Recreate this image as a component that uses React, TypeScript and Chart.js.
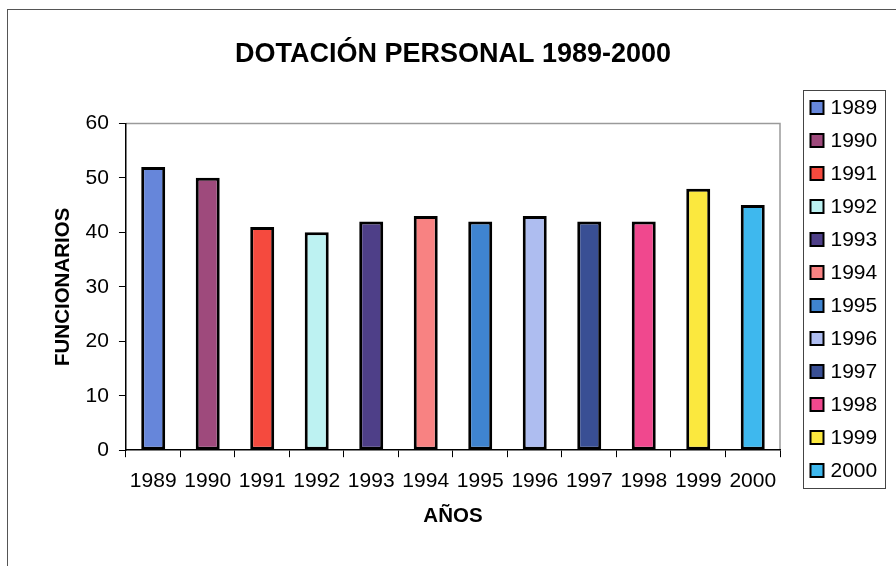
import React, { useEffect, useRef } from "react";
import { Chart, registerables } from "chart.js";

Chart.register(...registerables);

const TITLE = "DOTACIÓN PERSONAL 1989-2000";
const X_TITLE = "AÑOS";
const Y_TITLE = "FUNCIONARIOS";
const years = ["1989", "1990", "1991", "1992", "1993", "1994", "1995", "1996", "1997", "1998", "1999", "2000"];
const staff = [52, 50, 41, 40, 42, 43, 42, 43, 42, 42, 48, 45];
const barColors = [
  "#6686DA", "#9E4A7C", "#F54A3E", "#BDF2F2", "#4E3F88", "#F88282",
  "#3F84D0", "#AEBDF0", "#394F94", "#F0488E", "#FBE83E", "#3EB8EE",
];
const Y_MIN = 0;
const Y_MAX = 60;
const Y_STEP = 10;

const FONT = "'Liberation Sans', Arial, sans-serif";

const decorPlugin = {
  id: "decor",
  beforeDraw(chart: any) {
    const ctx = chart.ctx;
    ctx.save();
    ctx.fillStyle = "#ffffff";
    ctx.fillRect(0, 0, chart.width, chart.height);
    ctx.strokeStyle = "#555555";
    ctx.lineWidth = 1;
    ctx.strokeRect(7.5, 9.5, 1000, 1000);
    const a = chart.chartArea;
    ctx.strokeStyle = "#9a9a9a";
    ctx.lineWidth = 1.5;
    ctx.beginPath();
    ctx.moveTo(a.left, a.top);
    ctx.lineTo(a.right, a.top);
    ctx.lineTo(a.right, a.bottom);
    ctx.stroke();
    ctx.restore();
  },
  afterDraw(chart: any) {
    const ctx = chart.ctx;
    const a = chart.chartArea;
    const boxL = a.right + 23.5;
    const boxT = 90.5;
    const boxW = 82;
    const step = 33;
    const boxH = 398;
    ctx.save();
    ctx.strokeStyle = "#444444";
    ctx.lineWidth = 1;
    ctx.strokeRect(boxL, boxT, boxW, boxH);
    ctx.font = `21px ${FONT}`;
    ctx.textBaseline = "middle";
    ctx.textAlign = "left";
    years.forEach((y, i) => {
      const cy = 107.5 + i * step;
      const sx = boxL + 7;
      ctx.fillStyle = barColors[i];
      ctx.fillRect(sx, cy - 6.5, 13, 13);
      ctx.strokeStyle = "#000000";
      ctx.lineWidth = 2;
      ctx.strokeRect(sx, cy - 6.5, 13, 13);
      ctx.fillStyle = "#000000";
      ctx.fillText(y, boxL + 27, cy + 1);
    });
    ctx.restore();
  },
};

export default function App() {
  const ref = useRef<HTMLCanvasElement | null>(null);
  useEffect(() => {
    if (!ref.current) return;
    const chart = new Chart(ref.current, {
      type: "bar",
      data: {
        labels: years,
        datasets: [
          {
            label: TITLE,
            data: staff,
            backgroundColor: barColors,
            borderColor: "#000000",
            borderWidth: 3,
            borderSkipped: false,
            categoryPercentage: 1,
            barPercentage: 0.44,
          },
        ],
      },
      options: {
        responsive: false,
        animation: false,
        layout: { padding: { left: 51, right: 116, top: 10, bottom: 33 } },
        plugins: {
          legend: { display: false },
          tooltip: { enabled: false },
          title: {
            display: true,
            text: TITLE,
            fullSize: false,
            color: "#000000",
            font: { family: FONT, size: 27, weight: "bold" },
            padding: { top: 28, bottom: 53 },
          },
        },
        scales: {
          x: {
            offset: true,
            grid: {
              offset: true,
              drawOnChartArea: false,
              drawTicks: true,
              tickLength: 7,
              color: "#000000",
              lineWidth: 1,
            },
            border: { display: true, color: "#000000", width: 1.5 },
            ticks: { color: "#000000", padding: 11, font: { family: FONT, size: 21 } },
            title: {
              display: true,
              text: X_TITLE,
              color: "#000000",
              font: { family: FONT, size: 20.5, weight: "bold" },
              padding: { top: 0, bottom: 4 },
            },
          },
          y: {
            min: Y_MIN,
            max: Y_MAX,
            grid: {
              drawOnChartArea: false,
              drawTicks: true,
              tickLength: 7,
              color: "#000000",
              lineWidth: 1,
            },
            border: { display: true, color: "#000000", width: 1.5 },
            ticks: { stepSize: Y_STEP, color: "#000000", padding: 10, font: { family: FONT, size: 21 } },
            title: {
              display: true,
              text: Y_TITLE,
              color: "#000000",
              font: { family: FONT, size: 20.5, weight: "bold" },
              padding: { top: 0, bottom: 0 },
            },
          },
        },
      },
      plugins: [decorPlugin],
    });
    return () => chart.destroy();
  }, []);
  return (
    <div style={{ position: "fixed", left: 0, top: 0, width: 896, height: 566 }}>
      <canvas ref={ref} width={896} height={566} style={{ display: "block" }} />
    </div>
  );
}
